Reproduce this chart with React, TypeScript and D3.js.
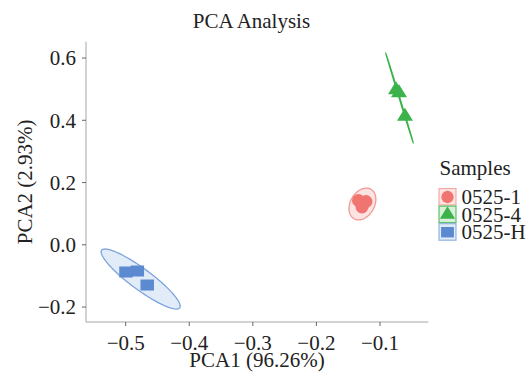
import React from "react";
import * as d3 from "d3";

const samples = ["0525-1", "0525-4", "0525-H"];
const colors = ["#f0746f", "#3bb34a", "#5b8ad0"];
const ellipseStroke = ["#f29893", "#3bb34a", "#7ba3dd"];
const ellipseFill = ["#fde3e1", "none", "#e2ebf8"];

const pc1 = [
  [-0.1338, -0.122, -0.1283],
  [-0.0748, -0.0701, -0.0607],
  [-0.4995, -0.4817, -0.4661],
];
const pc2 = [
  [0.1423, 0.1391, 0.1214],
  [0.4974, 0.4877, 0.4122],
  [-0.0874, -0.0842, -0.1292],
];

// ellipse: centre, conjugate semi-axis vectors u and v (data units)
const ellCx = [-0.1276, -0.0693, -0.4764];
const ellCy = [0.1312, 0.4717, -0.11];
const ellU = [
  [0.01337, 0.0472],
  [0.02123, -0.1414],
  [0.0614, -0.0926],
];
const ellV = [
  [0.01636, -0.0193],
  [0.0006, 0.0001],
  [-0.0098, -0.0271],
];

const xTicks = [-0.5, -0.4, -0.3, -0.2, -0.1];
const yTicks = [-0.2, 0.0, 0.2, 0.4, 0.6];

const W = 529;
const H = 376;
const left = 86;
const right = 428.3;
const top = 41.7;
const bottom = 322;

const FONT = "Liberation Serif, Times New Roman, serif";
const ts: React.CSSProperties = { fontFamily: FONT };
const FS = 21;

export default function App() {
  const x = d3.scaleLinear().domain([-0.5624, -0.024]).range([left, right]);
  const y = d3.scaleLinear().domain([-0.248, 0.6525]).range([bottom, top]);
  const fmt = (v: number) => (v < 0 ? "\u2212" + d3.format(".1f")(-v) : d3.format(".1f")(v));

  const ellipsePath = (i: number) => {
    const pts: [number, number][] = d3.range(0, 101).map((k) => {
      const t = (k / 100) * 2 * Math.PI;
      const dx = ellCx[i] + ellU[i][0] * Math.cos(t) + ellV[i][0] * Math.sin(t);
      const dy = ellCy[i] + ellU[i][1] * Math.cos(t) + ellV[i][1] * Math.sin(t);
      return [x(dx), y(dy)];
    });
    return d3.line()(pts) + "Z";
  };

  const marker = (g: number, cx: number, cy: number, key: string, s = 1) => {
    if (g === 0) return <circle key={key} cx={cx} cy={cy} r={6.5 * s} fill={colors[g]} />;
    if (g === 1) {
      const w = 16 * s, h = 13 * s;
      return (
        <path
          key={key}
          d={`M${cx},${cy - (2 * h) / 3}L${cx + w / 2},${cy + h / 3}L${cx - w / 2},${cy + h / 3}Z`}
          fill={colors[g]}
        />
      );
    }
    const w = 13.5 * s, h = 11 * s;
    return <rect key={key} x={cx - w / 2} y={cy - h / 2} width={w} height={h} fill={colors[g]} />;
  };

  return (
    <svg width={W} height={H} style={{ position: "absolute", left: 0, top: 0, fontFamily: FONT }}>
      <rect width={W} height={H} fill="#fff" />
      <text x={251.5} y={28} textAnchor="middle" fontSize={FS} fill="#222" style={ts}>
        PCA Analysis
      </text>

      {samples.map((s, i) => (
        <path
          key={"e" + s}
          d={ellipsePath(i)}
          fill={ellipseFill[i]}
          stroke={ellipseStroke[i]}
          strokeWidth={i === 1 ? 1.3 : 1.3}
        />
      ))}

      {samples.map((s, g) =>
        pc1[g].map((v, j) => marker(g, x(v), y(pc2[g][j]), s + j))
      )}

      <line x1={left} x2={left} y1={top} y2={bottom} stroke="#a6a6a6" strokeWidth={1} />
      <line x1={left} x2={right} y1={bottom} y2={bottom} stroke="#a6a6a6" strokeWidth={1} />
      {xTicks.map((t) => (
        <g key={"xt" + t}>
          <line x1={x(t)} x2={x(t)} y1={bottom} y2={bottom + 4} stroke="#666" />
          <text x={x(t)} y={349.5} textAnchor="middle" fontSize={FS} fill="#222" style={ts}>
            {fmt(t)}
          </text>
        </g>
      ))}
      {yTicks.map((t) => (
        <g key={"yt" + t}>
          <line x1={left - 4} x2={left} y1={y(t)} y2={y(t)} stroke="#666" />
          <text x={76} y={y(t)} dy="0.35em" textAnchor="end" fontSize={FS} fill="#222" style={ts}>
            {fmt(t)}
          </text>
        </g>
      ))}
      <text x={257} y={367} textAnchor="middle" fontSize={FS} fill="#222" style={ts}>
        PCA1 (96.26%)
      </text>
      <text
        transform={`translate(32,${(top + bottom) / 2}) rotate(-90)`}
        textAnchor="middle"
        fontSize={FS}
        fill="#222"
        style={ts}
      >
        PCA2 (2.93%)
      </text>

      <text x={439.5} y={175} fontSize={FS} fill="#222" style={ts}>
        Samples
      </text>
      {samples.map((s, i) => {
        const ky = 188.5 + i * 17.6;
        return (
          <g key={"lg" + s}>
            <rect
              x={439}
              y={ky}
              width={17}
              height={16.5}
              fill={i === 1 ? "#d8f0da" : ellipseFill[i]}
              stroke={ellipseStroke[i]}
              strokeOpacity={0.8}
              strokeWidth={1.2}
            />
            {marker(i, 447.5, ky + 8.5, "lm" + s, 0.95)}
            <text x={461.5} y={ky + 15.5} fontSize={FS} fill="#222" style={ts}>
              {s}
            </text>
          </g>
        );
      })}
    </svg>
  );
}
